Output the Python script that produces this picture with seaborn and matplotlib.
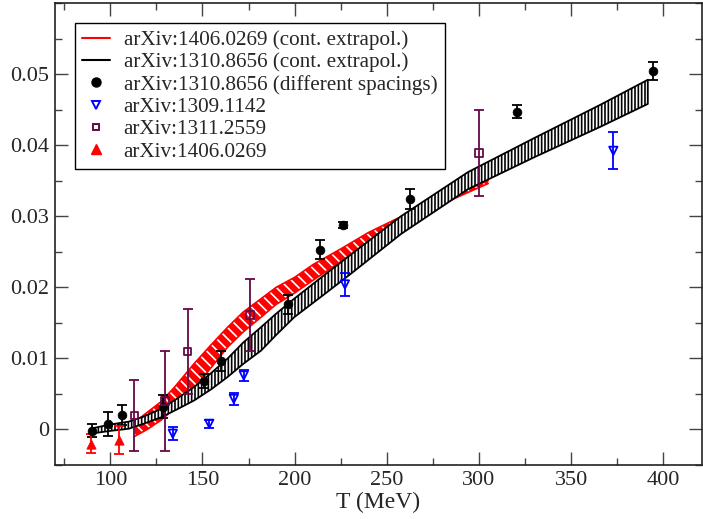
import numpy as np
import matplotlib
matplotlib.use("Agg")
import matplotlib.pyplot as plt
from matplotlib.lines import Line2D
from matplotlib.ticker import MultipleLocator, FuncFormatter
import seaborn as sns

sns.set_theme(style="ticks", font="Liberation Serif")
plt.rcParams["font.family"] = ["Liberation Serif", "DejaVu Serif"]
plt.rcParams["hatch.linewidth"] = 1.2

# continuum band, arXiv:1406.0269
red_T = [113, 120, 127.5, 135, 145.6, 155, 163.7, 172, 181.8, 190, 200, 210, 225, 240, 255, 270, 285, 305]
red_lo = [-0.0010, 0.0000, 0.0013, 0.0030, 0.0058, 0.0088, 0.0116, 0.0137, 0.0158, 0.0176,
          0.0192, 0.0210, 0.0236, 0.0262, 0.0284, 0.0304, 0.0323, 0.0346]
red_hi = [0.0010, 0.0024, 0.0039, 0.0060, 0.0093, 0.0120, 0.0144, 0.0165, 0.0184, 0.0200,
          0.0214, 0.0232, 0.0254, 0.0277, 0.0296, 0.0312, 0.0329, 0.0350]

# continuum band, arXiv:1310.8656
black_T = [89, 100, 110, 118, 127.5, 136, 145.6, 155, 163.7, 172, 181.8, 190, 199.8, 215, 230,
           257.7, 294, 330, 366, 391.6]
black_lo = [-0.0006, -0.0002, 0.0001, 0.0008, 0.0017, 0.0028, 0.0041, 0.0057, 0.0074, 0.0092,
            0.0111, 0.0133, 0.0158, 0.0188, 0.0218, 0.0275, 0.0338, 0.0383, 0.0426, 0.0458]
black_hi = [0.0001, 0.0007, 0.0011, 0.0018, 0.0029, 0.0043, 0.0060, 0.0080, 0.0100, 0.0122,
            0.0144, 0.0163, 0.0184, 0.0215, 0.0245, 0.0300, 0.0362, 0.0410, 0.0457, 0.0492]

# arXiv:1310.8656, different spacings
sp_T = [90.1, 98.6, 106.3, 128.4, 150.7, 160.1, 196.6, 213.6, 226.2, 262.5, 320.7, 394.2]
sp_y = [-0.0002, 0.0008, 0.0020, 0.0032, 0.0068, 0.0096, 0.0176, 0.0253, 0.0288, 0.0324, 0.0447, 0.0504]
sp_err = [0.0009, 0.0017, 0.0014, 0.0016, 0.0010, 0.0014, 0.0013, 0.0013, 0.0004, 0.0014, 0.0009, 0.0013]

# arXiv:1309.1142
wb_T = [133.9, 153.7, 167.0, 172.4, 227.3, 372.9]
wb_y = [-0.0006, 0.0008, 0.0043, 0.0076, 0.0204, 0.0392]
wb_err = [0.0009, 0.0006, 0.0008, 0.0008, 0.0016, 0.0026]

# arXiv:1311.2559
hot_T = [113.0, 129.7, 142.0, 175.8, 300.0]
hot_y = [0.0020, 0.0040, 0.0110, 0.0161, 0.0389]
hot_err = [0.0050, 0.0070, 0.0060, 0.0050, 0.0060]

# arXiv:1406.0269
ts_T = [89.5, 104.9]
ts_y = [-0.0020, -0.0015]
ts_err = [0.0013, 0.0020]

labels = ["arXiv:1406.0269 (cont. extrapol.)", "arXiv:1310.8656 (cont. extrapol.)",
          "arXiv:1310.8656 (different spacings)", "arXiv:1309.1142", "arXiv:1311.2559",
          "arXiv:1406.0269"]

RED = "#ff0000"
BLUE = "#0000ff"
MAROON = "#670748"

fig = plt.figure(figsize=(7.03, 5.19), dpi=100)
ax = fig.add_axes([55 / 703, 54 / 519, 647 / 703, 462 / 519])

# bands: red first, black hatched band on top
ax.fill_between(red_T, red_lo, red_hi, facecolor=RED, edgecolor="white", hatch="\\\\\\", linewidth=0, zorder=1)
sns.lineplot(x=red_T, y=red_lo, color=RED, lw=1.2, ax=ax, zorder=1.1)
sns.lineplot(x=red_T, y=red_hi, color=RED, lw=1.2, ax=ax, zorder=1.1)
ax.fill_between(black_T, black_lo, black_hi, facecolor="white", edgecolor="black", hatch="|||||",
                linewidth=1.3, zorder=2)

# error bars
for T, y, e, c in [(sp_T, sp_y, sp_err, "black"), (wb_T, wb_y, wb_err, BLUE),
                   (hot_T, hot_y, hot_err, MAROON), (ts_T, ts_y, ts_err, RED)]:
    ax.errorbar(T, y, yerr=e, fmt="none", ecolor=c, elinewidth=1.3, capsize=3.5, capthick=1.3, zorder=3)

sns.scatterplot(x=sp_T, y=sp_y, marker="o", s=40, color="black", edgecolor="black", ax=ax, zorder=4)
sns.scatterplot(x=wb_T, y=wb_y, marker="v", s=36, color=BLUE, facecolor="none", edgecolor=BLUE,
                linewidth=1.3, ax=ax, zorder=4)
sns.scatterplot(x=hot_T, y=hot_y, marker="s", s=28, color=MAROON, facecolor="none", edgecolor=MAROON,
                linewidth=1.3, ax=ax, zorder=4)
sns.scatterplot(x=ts_T, y=ts_y, marker="^", s=45, color=RED, edgecolor=RED, ax=ax, zorder=4)

ax.set_xlim(70, 421)
ax.set_ylim(-0.005, 0.06)
ax.set_xticks([100, 150, 200, 250, 300, 350, 400])
ax.set_yticks([0, 0.01, 0.02, 0.03, 0.04, 0.05])
ax.xaxis.set_minor_locator(MultipleLocator(25))
ax.yaxis.set_minor_locator(MultipleLocator(0.005))
ax.yaxis.set_major_formatter(FuncFormatter(lambda v, p: "0" if abs(v) < 1e-12 else f"{v:g}"))
ax.tick_params(which="both", direction="in", top=True, right=True, color="#444444", width=1.0)
ax.tick_params(which="major", length=9.5, labelsize=16, pad=4)
ax.tick_params(which="minor", length=5)
for sp in ax.spines.values():
    sp.set_color("#222222")
    sp.set_linewidth(1.2)

ax.set_xlabel("T (MeV)", fontsize=17, labelpad=2)
ax.set_ylabel("")

handles = [
    Line2D([], [], color=RED, lw=1.5),
    Line2D([], [], color="black", lw=1.5),
    Line2D([], [], marker="o", color="black", ls="none", ms=6.5),
    Line2D([], [], marker="v", mfc="none", mec=BLUE, mew=1.4, ls="none", ms=6),
    Line2D([], [], marker="s", mfc="none", mec=MAROON, mew=1.4, ls="none", ms=5),
    Line2D([], [], marker="^", color=RED, ls="none", ms=7),
]
leg = ax.legend(handles, labels, loc="upper left", bbox_to_anchor=(0.031, 0.957), borderaxespad=0,
                fontsize=15.2, frameon=True, fancybox=False, framealpha=1, edgecolor="black",
                handlelength=1.3, handletextpad=0.65, labelspacing=0.12, borderpad=0.35)
leg.get_frame().set_linewidth(1.0)

fig.savefig("out.png", dpi=100)
